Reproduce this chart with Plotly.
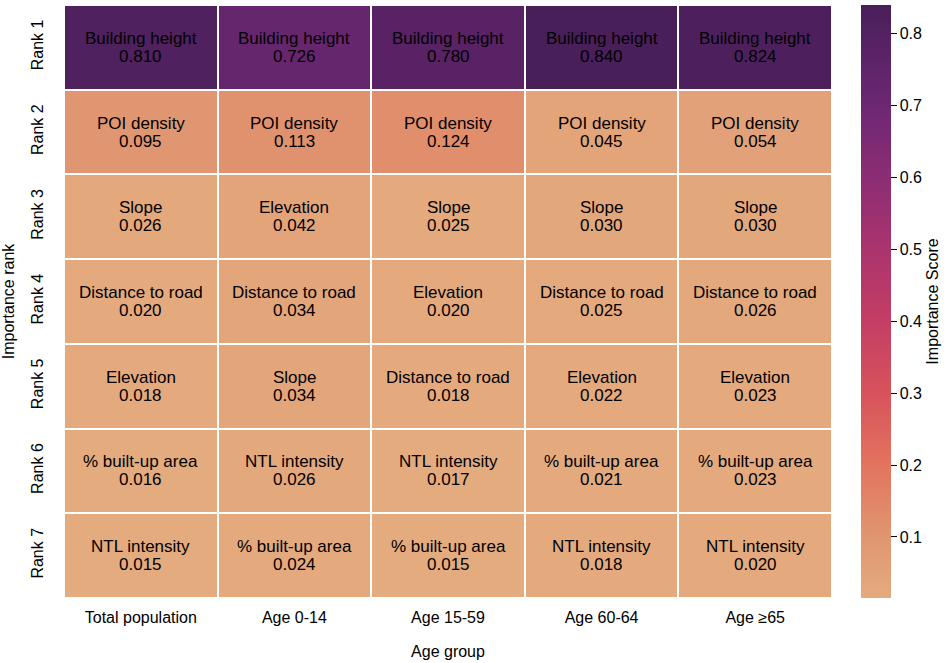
import plotly.graph_objects as go

groups = ["Total population", "Age 0-14", "Age 15-59", "Age 60-64", "Age ≥65"]
ranks = ["Rank 1", "Rank 2", "Rank 3", "Rank 4", "Rank 5", "Rank 6", "Rank 7"]

feat_total = ["Building height", "POI density", "Slope", "Distance to road", "Elevation", "% built-up area", "NTL intensity"]
val_total = [0.810, 0.095, 0.026, 0.020, 0.018, 0.016, 0.015]
feat_0_14 = ["Building height", "POI density", "Elevation", "Distance to road", "Slope", "NTL intensity", "% built-up area"]
val_0_14 = [0.726, 0.113, 0.042, 0.034, 0.034, 0.026, 0.024]
feat_15_59 = ["Building height", "POI density", "Slope", "Elevation", "Distance to road", "NTL intensity", "% built-up area"]
val_15_59 = [0.780, 0.124, 0.025, 0.020, 0.018, 0.017, 0.015]
feat_60_64 = ["Building height", "POI density", "Slope", "Distance to road", "Elevation", "% built-up area", "NTL intensity"]
val_60_64 = [0.840, 0.045, 0.030, 0.025, 0.022, 0.021, 0.018]
feat_65 = ["Building height", "POI density", "Slope", "Distance to road", "Elevation", "% built-up area", "NTL intensity"]
val_65 = [0.824, 0.054, 0.030, 0.026, 0.023, 0.023, 0.020]

cbar_ticks = [0.1, 0.2, 0.3, 0.4, 0.5, 0.6, 0.7, 0.8]

feats = [feat_total, feat_0_14, feat_15_59, feat_60_64, feat_65]
vals = [val_total, val_0_14, val_15_59, val_60_64, val_65]

z = [[vals[c][r] for c in range(len(groups))] for r in range(len(ranks))]

zmin, zmax = 0.015, 0.84
def n(v):
    return (v - zmin) / (zmax - zmin)

colorscale = [
    [0.0, "rgb(228,171,126)"],
    [n(0.1), "rgb(224,150,112)"],
    [n(0.2), "rgb(226,116,94)"],
    [n(0.3), "rgb(216,82,92)"],
    [n(0.4), "rgb(196,62,100)"],
    [n(0.5), "rgb(170,52,110)"],
    [n(0.6), "rgb(140,45,116)"],
    [n(0.7), "rgb(108,39,115)"],
    [1.0, "rgb(73,31,90)"],
]

FONT = "Liberation Sans, Arial"

fig = go.Figure(go.Heatmap(
    z=z, x=groups, y=ranks,
    colorscale=colorscale, zmin=zmin, zmax=zmax, xgap=2, ygap=2,
    hoverinfo="skip",
    colorbar=dict(
        x=(861 - 64) / 768, xanchor="left", y=0.5, yanchor="middle",
        len=1.0, lenmode="fraction", thickness=30, outlinewidth=0,
        ypad=0, xpad=0,
        tickvals=cbar_ticks, ticks="outside", ticklen=6, tickcolor="black",
        tickfont=dict(family=FONT, size=16, color="black"),
        title=dict(text="Importance Score", side="right",
                   font=dict(family=FONT, size=16, color="black")),
    ),
))

for c in range(len(groups)):
    for r in range(len(ranks)):
        fig.add_annotation(x=groups[c], y=ranks[r], text=feats[c][r], yshift=9,
                           showarrow=False, font=dict(family=FONT, size=17, color="black"))
        fig.add_annotation(x=groups[c], y=ranks[r], text=f"{vals[c][r]:.3f}", yshift=-9,
                           showarrow=False, font=dict(family=FONT, size=17, color="black"))

fig.update_layout(
    width=950, height=663,
    margin=dict(l=64, r=118, t=5, b=65, autoexpand=False),
    plot_bgcolor="white", paper_bgcolor="white",
    font=dict(family=FONT, size=16, color="black"),
    xaxis=dict(showgrid=False, zeroline=False, ticks="", ticklabelstandoff=8,
               automargin=False, tickfont=dict(size=16),
               title=dict(text="Age group", standoff=20, font=dict(size=16))),
    yaxis=dict(showgrid=False, zeroline=False, ticks="", autorange="reversed",
               automargin=False, tickangle=-90, tickfont=dict(size=16), ticklabelstandoff=17,
               title=dict(text="Importance rank", standoff=10, font=dict(size=16))),
)

fig.write_html("out.html", config={"displayModeBar": False},
               post_script="document.body.style.margin='0';")
